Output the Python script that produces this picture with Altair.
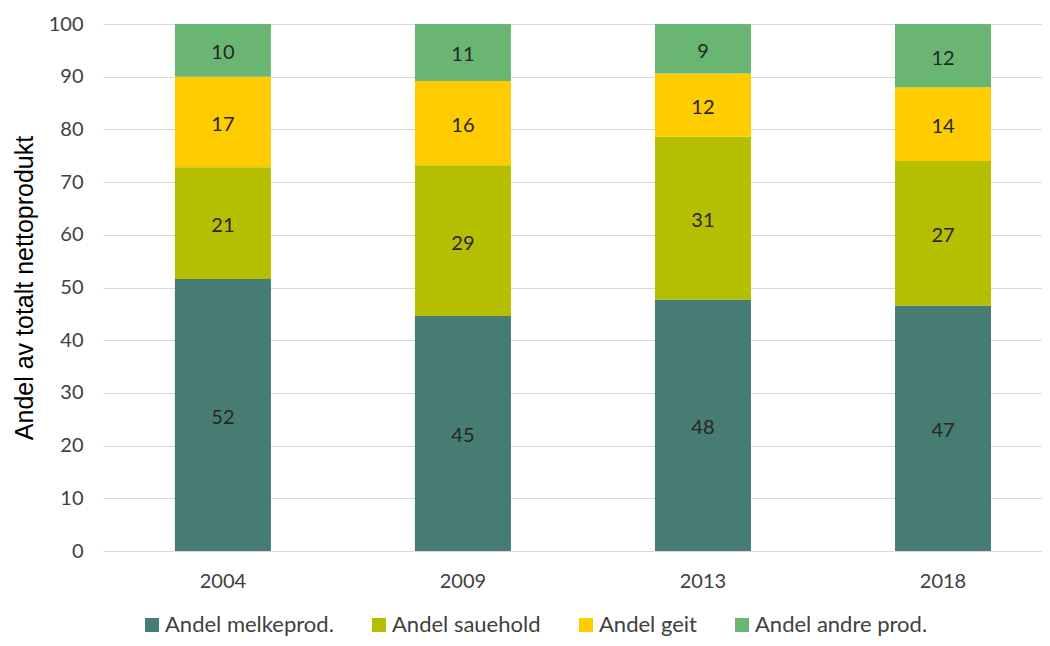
import altair as alt
import pandas as pd

years = ["2004", "2009", "2013", "2018"]
series = ["Andel melkeprod.", "Andel sauehold", "Andel geit", "Andel andre prod."]
colors = ["#467C71", "#B5BE00", "#FFCC00", "#69B673"]

melk = [51.6, 44.6, 47.7, 46.6]
saue = [21.2, 28.6, 30.9, 27.4]
geit = [17.2, 16.0, 12.0, 14.0]
andre = [10.0, 10.8, 9.4, 12.0]

vals = [melk, saue, geit, andre]
rows = []
for si, s in enumerate(series):
    for yi, yr in enumerate(years):
        rows.append({"year": yr, "series": s, "order": si, "value": vals[si][yi]})
df = pd.DataFrame(rows)

xscale = alt.Scale(domain=years, paddingInner=0.6, paddingOuter=0.256, align=0.585)
xaxis = alt.Axis(title=None, labelAngle=0, domain=False, ticks=False, labelPadding=20,
                 labelFont="Lato", labelFontSize=20, labelColor="#404040", grid=False)
yaxis = alt.Axis(title="Andel av totalt nettoprodukt", values=list(range(0, 101, 10)),
                 domain=False, ticks=False, labelPadding=20, labelFont="Lato",
                 labelFontSize=20, labelColor="#404040", grid=True, gridColor="#D9D9D9",
                 gridWidth=1, titleFont="Liberation Sans", titleFontSize=25,
                 titleFontWeight="normal", titleColor="#000000", titlePadding=11)

base = alt.Chart(df)
bars = base.mark_bar().encode(
    x=alt.X("year:N", scale=xscale, axis=xaxis),
    y=alt.Y("value:Q", stack="zero", scale=alt.Scale(domain=[0, 100], nice=False), axis=yaxis),
    color=alt.Color("series:N", scale=alt.Scale(domain=series, range=colors),
                    legend=alt.Legend(title=None, orient="none", legendX=38, legendY=590,
                                      direction="horizontal", columns=4, symbolType="square",
                                      symbolSize=196, symbolStrokeWidth=0, labelFont="Lato",
                                      labelFontSize=22, labelColor="#404040", columnPadding=34,
                                      labelOffset=2, labelLimit=400)),
    order=alt.Order("order:Q"),
)

labels = base.transform_stack(
    stack="value", as_=["y0", "y1"], groupby=["year"], sort=[alt.SortField("order")]
).transform_calculate(mid="(datum.y0 + datum.y1) / 2").mark_text(
    font="Lato", fontSize=20, color="#262626", dy=3
).encode(
    x=alt.X("year:N", scale=xscale, axis=xaxis),
    y=alt.Y("mid:Q", axis=yaxis),
    text=alt.Text("value:Q", format=".0f"),
)

chart = alt.layer(bars, labels).properties(
    width=939, height=527,
    autosize=alt.AutoSizeParams(type="none"),
    padding={"left": 95, "top": 16, "right": 0, "bottom": 87},
).configure_view(stroke=None)

chart.save("out.html", embed_options={"renderer": "svg", "actions": False})
